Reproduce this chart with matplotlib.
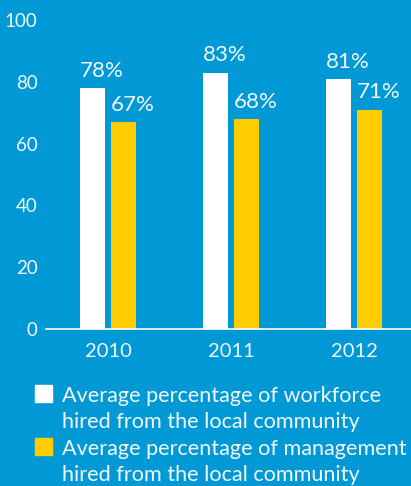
import numpy as np
import matplotlib
matplotlib.use("Agg")
import matplotlib.pyplot as plt
from matplotlib.patches import Rectangle

years = ["2010", "2011", "2012"]
workforce = [78, 83, 81]
management = [67, 68, 71]
labels = ["Average percentage of workforce\nhired from the local community",
          "Average percentage of management\nhired from the local community"]

bg = "#0099D6"
gold = "#FFCC00"
txt = "#F2F8FC"

plt.rcParams['font.family'] = ['Lato', 'DejaVu Sans']

W, H = 411, 486
fig = plt.figure(figsize=(W / 100, H / 100), dpi=100, facecolor=bg)
# axes box in pixels: left 46, right 411, bottom y=329, top y=20
ax = fig.add_axes([46 / W, 1 - 329 / H, 365 / W, 309 / H])
ax.set_facecolor(bg)

x = np.arange(len(years))
w = 0.203
off = 0.126
b1 = ax.bar(x - off, workforce, w, color="white")
b2 = ax.bar(x + off, management, w, color=gold)

# value labels start at the left edge of each bar
for bars, vals in ((b1, workforce), (b2, management)):
    for r, v in zip(bars, vals):
        ax.text(r.get_x(), v + 3.6, f"{v}%",
                ha="left", va="baseline", color=txt, fontsize=16)

ax.set_xlim(-0.504, 2.463)
ax.set_ylim(0, 100)
ax.set_yticks(range(0, 101, 20))
ax.set_xticks(x)
ax.set_xticklabels(years)
for s in ("top", "right", "left"):
    ax.spines[s].set_visible(False)
ax.spines["bottom"].set_color("white")
ax.spines["bottom"].set_linewidth(1.2)
ax.tick_params(axis="y", length=0, pad=6, labelsize=13.5, labelcolor=txt)
ax.tick_params(axis="x", length=0, pad=10, labelsize=14.5, labelcolor=txt)

# legend drawn by hand: square swatch plus two text lines per entry
for i, (lab, col) in enumerate(zip(labels, ["white", gold])):
    top = 385 + i * 53
    fig.patches.append(Rectangle((35 / W, 1 - (top + 17) / H), 17 / W, 17 / H,
                                 transform=fig.transFigure, color=col))
    for j, line in enumerate(lab.split("\n")):
        fig.text(62 / W, 1 - (top + 17 + j * 26) / H, line, color=txt,
                 fontsize=15.6, ha="left", va="baseline")

fig.savefig("out.png", dpi=100, facecolor=bg)
